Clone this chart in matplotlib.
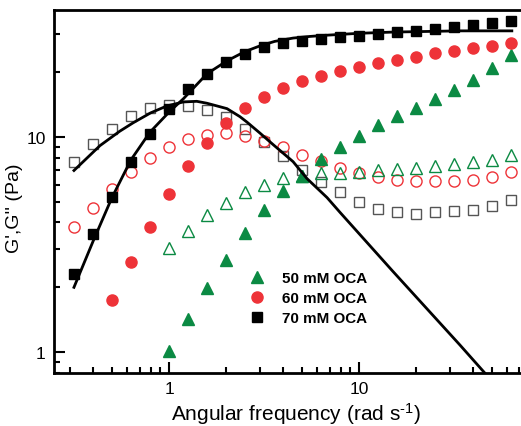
import matplotlib
matplotlib.use("Agg")
import matplotlib.pyplot as plt
import numpy as np

plt.rcParams['font.family'] = ['Liberation Sans', 'DejaVu Sans']
plt.rcParams['mathtext.default'] = 'regular'

# angular frequency, 10 points per decade from ~0.316 to ~63 rad/s
freq = [0.316, 0.398, 0.501, 0.631, 0.794, 1.0, 1.26, 1.58, 2.0, 2.51,
        3.16, 3.98, 5.01, 6.31, 7.94, 10.0, 12.6, 15.8, 20.0, 25.1,
        31.6, 39.8, 50.1, 63.1]

# 70 mM OCA
g1_70 = [2.30, 3.53, 5.27, 7.66, 10.3, 13.5, 16.7, 19.6, 22.2, 24.2,
         26.0, 27.2, 27.8, 28.4, 29.0, 29.4, 30.0, 30.6, 31.0, 31.6,
         32.3, 33.0, 33.7, 34.4]
g2_70 = [7.66, 9.29, 10.9, 12.5, 13.6, 14.1, 13.9, 13.3, 12.4, 10.9,
         9.5, 8.17, 7.03, 6.19, 5.51, 5.0, 4.64, 4.45, 4.40, 4.45,
         4.54, 4.59, 4.79, 5.10]

# 60 mM OCA
g1_60 = [None, None, 1.74, 2.61, 3.83, 5.45, 7.34, 9.38, 11.6, 13.6,
         15.3, 16.9, 18.2, 19.2, 20.2, 21.1, 22.0, 22.7, 23.5, 24.5,
         25.0, 25.8, 26.4, 27.2]
g2_60 = [3.83, 4.69, 5.74, 6.88, 8.0, 9.0, 9.8, 10.2, 10.4, 10.1,
         9.58, 9.0, 8.26, 7.74, 7.18, 6.81, 6.53, 6.32, 6.25, 6.25,
         6.25, 6.32, 6.53, 6.88]

# 50 mM OCA
g1_50 = [None, None, None, None, None, 1.01, 1.42, 1.98, 2.67, 3.59,
         4.59, 5.62, 6.6, 7.91, 8.99, 10.1, 11.3, 12.5, 13.6, 15.0,
         16.5, 18.4, 20.9, 24.0]
g2_50 = [None, None, None, None, None, 3.03, 3.67, 4.31, 4.9, 5.56,
         5.99, 6.4, 6.6, 6.81, 6.81, 6.88, 7.03, 7.11, 7.18, 7.34,
         7.5, 7.66, 7.83, 8.26]

# fitted curves
fit1_x = [0.316, 0.40, 0.50, 0.63, 0.794, 1.0, 1.19, 1.585, 2.02, 2.5,
          3.01, 3.6, 4.5, 5.5, 6.79, 10.0, 15.1, 34.0, 63.8]
fit1_y = [2.0, 3.3, 5.2, 7.8, 10.5, 13.0, 15.0, 19.6, 22.5, 24.8,
          26.4, 27.7, 28.7, 29.2, 29.6, 30.2, 30.6, 31.0, 31.0]
fit2_x = [0.316, 0.433, 0.55, 0.647, 0.80, 0.976, 1.19, 1.40, 1.585, 2.02,
          2.36, 2.57, 3.01, 3.53, 4.5, 5.32, 6.79, 7.94, 15.1, 34.0, 46.0]
fit2_y = [6.97, 9.09, 10.6, 11.6, 12.9, 13.9, 14.5, 14.6, 14.3, 13.5,
          12.4, 11.7, 10.4, 9.2, 7.66, 6.4, 5.22, 4.46, 2.37, 1.08, 0.80]

labels = ['50 mM OCA', '60 mM OCA', '70 mM OCA']
green = '#0b8a43'
red = '#ee3338'


def arr(v):
    return np.array([np.nan if a is None else a for a in v], dtype=float)


fig = plt.figure(figsize=(5.21, 4.27), dpi=100)
ax = fig.add_axes([0.1036, 0.124, 0.8964, 0.850])

ax.plot(fit1_x, fit1_y, color='k', lw=2.0, zorder=3)
ax.plot(fit2_x, fit2_y, color='k', lw=2.0, zorder=3)

ax.plot(freq, arr(g2_70), 's', ms=7.2, mfc='none', mec='#555555', mew=1.0)
ax.plot(freq, arr(g2_60), 'o', ms=8, mfc='none', mec=red, mew=1.0)
ax.plot(freq, arr(g2_50), '^', ms=8, mfc='none', mec=green, mew=1.0)

h50, = ax.plot(freq, arr(g1_50), '^', ms=8, color=green, mec=green, label=labels[0])
h60, = ax.plot(freq, arr(g1_60), 'o', ms=8, color=red, mec=red, label=labels[1])
h70, = ax.plot(freq, arr(g1_70), 's', ms=7.2, color='k', label=labels[2])

ax.set_xscale('log')
ax.set_yscale('log')
ax.set_xlim(0.248, 71.3)
ax.set_ylim(0.8, 38.7)

ax.set_xticks([1, 10])
ax.set_xticklabels(['1', '10'])
ax.set_yticks([1, 10])
ax.set_yticklabels(['1', '10'])
ax.tick_params(which='major', direction='in', length=8, width=1.5, labelsize=12.5, pad=6)
ax.tick_params(which='minor', direction='in', length=4.5, width=1.5)
ax.tick_params(axis='x', which='both', top=False)
ax.tick_params(axis='y', which='both', right=False)
ax.yaxis.set_minor_formatter(matplotlib.ticker.NullFormatter())
ax.xaxis.set_minor_formatter(matplotlib.ticker.NullFormatter())

for s in ['left', 'bottom', 'top']:
    ax.spines[s].set_linewidth(2)
ax.spines['right'].set_visible(False)

ax.set_xlabel('Angular frequency (rad s$^{\u2010 1}$)', fontsize=15)
ax.xaxis.set_label_coords(0.518, -0.074)
ax.set_ylabel("G',G'' (Pa)", fontsize=14)
ax.yaxis.set_label_coords(-0.066, 0.457)

leg = ax.legend(handles=[h50, h60, h70], loc='upper left',
                bbox_to_anchor=(0.405, 0.297), frameon=False,
                prop={'weight': 'bold', 'size': 10.9},
                handlelength=1.0, handletextpad=1.2, labelspacing=0.4,
                borderaxespad=0)

fig.savefig('out.png', dpi=100)
